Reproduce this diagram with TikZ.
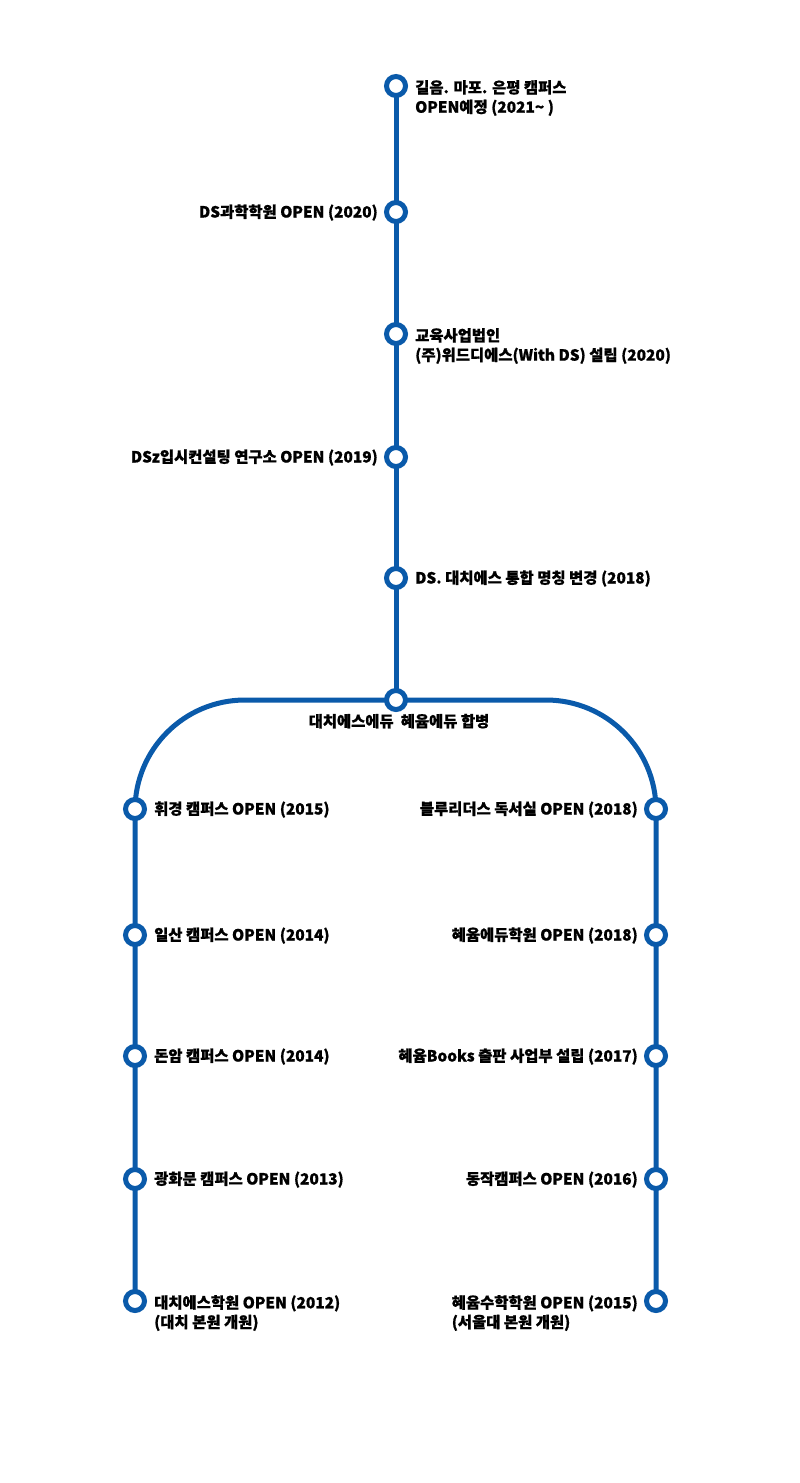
\documentclass[tikz,border=0pt]{standalone}
\usepackage{fontspec}
\setmainfont{Noto Sans CJK KR}[BoldFeatures={FakeBold=0.8}]
\usetikzlibrary{backgrounds}
\definecolor{lineblue}{RGB}{10,90,170}
\tikzset{
  stn/.style={circle,draw=lineblue,fill=white,line width=5pt,minimum size=19pt,inner sep=0pt},
  track/.style={draw=lineblue,line width=5pt},
  lbl/.style={font=\bfseries\fontsize{15.4}{19.5}\selectfont,inner sep=0pt,text=black,align=left},
}
\begin{document}
\begin{tikzpicture}[x=1pt,y=-1pt]
\path[use as bounding box] (0,0) rectangle (800,1483);
% stations - centre line
\node[stn] (c1) at (396,86) {};
\node[stn] (c2) at (396,212) {};
\node[stn] (c3) at (396,334) {};
\node[stn] (c4) at (396,457) {};
\node[stn] (c5) at (396,578) {};
\node[stn] (c6) at (396,700) {};
% left branch
\node[stn] (l1) at (135,809) {};
\node[stn] (l2) at (135,935) {};
\node[stn] (l3) at (135,1056) {};
\node[stn] (l4) at (135,1179) {};
\node[stn] (l5) at (135,1301) {};
% right branch
\node[stn] (r1) at (656,809) {};
\node[stn] (r2) at (656,935) {};
\node[stn] (r3) at (656,1056) {};
\node[stn] (r4) at (656,1179) {};
\node[stn] (r5) at (656,1301) {};
\begin{scope}[on background layer]
  \fill[white] (0,0) rectangle (800,1483);
  \path[track] (c1.center) -- (c6.center);
  \path[track,rounded corners=110pt] (l5.center) -- (l5.center |- c6.center) -- (r5.center |- c6.center) -- (r5.center);
\end{scope}
% labels
\node[lbl,anchor=north west] (t1) at ([xshift=19pt,yshift=6pt]c1.center) {길음. 마포. 은평 캠퍼스\\OPEN예정 (2021\textasciitilde\ )};
\node[lbl,anchor=base east] (t2) at ([xshift=-18pt,yshift=-5.5pt]c2.center) {DS과학학원 OPEN (2020)};
\node[lbl,anchor=north west] (t3) at ([xshift=19pt,yshift=6pt]c3.center) {교육사업법인\\(주)위드디에스(With DS) 설립 (2020)};
\node[lbl,anchor=base east] (t4) at ([xshift=-18pt,yshift=-5.5pt]c4.center) {DSz입시컨설팅 연구소 OPEN (2019)};
\node[lbl,anchor=base west] (t5) at ([xshift=19pt,yshift=-5.5pt]c5.center) {DS. 대치에스 통합 명칭 변경 (2018)};
\node[lbl,anchor=base] (t6) at ([xshift=3pt,yshift=-27pt]c6.center) {대치에스에듀\ \ 혜윰에듀 합병};
\node[lbl,anchor=base west] (tl1) at ([xshift=19pt,yshift=-5.5pt]l1.center) {휘경 캠퍼스 OPEN (2015)};
\node[lbl,anchor=base west] (tl2) at ([xshift=19pt,yshift=-5.5pt]l2.center) {일산 캠퍼스 OPEN (2014)};
\node[lbl,anchor=base west] (tl3) at ([xshift=19pt,yshift=-5.5pt]l3.center) {돈암 캠퍼스 OPEN (2014)};
\node[lbl,anchor=base west] (tl4) at ([xshift=19pt,yshift=-5.5pt]l4.center) {광화문 캠퍼스 OPEN (2013)};
\node[lbl,anchor=north west] (tl5) at ([xshift=19pt,yshift=6pt]l5.center) {대치에스학원 OPEN (2012)\\(대치 본원 개원)};
\node[lbl,anchor=base east] (tr1) at ([xshift=-18pt,yshift=-5.5pt]r1.center) {블루리더스 독서실 OPEN (2018)};
\node[lbl,anchor=base east] (tr2) at ([xshift=-18pt,yshift=-5.5pt]r2.center) {혜윰에듀학원 OPEN (2018)};
\node[lbl,anchor=base east] (tr3) at ([xshift=-18pt,yshift=-5.5pt]r3.center) {혜윰Books 출판 사업부 설립 (2017)};
\node[lbl,anchor=base east] (tr4) at ([xshift=-18pt,yshift=-5.5pt]r4.center) {동작캠퍼스 OPEN (2016)};
\node[lbl,anchor=north east] (tr5) at ([xshift=-18pt,yshift=6pt]r5.center) {혜윰수학학원 OPEN (2015)\\(서울대 본원 개원)};
\end{tikzpicture}
\end{document}
